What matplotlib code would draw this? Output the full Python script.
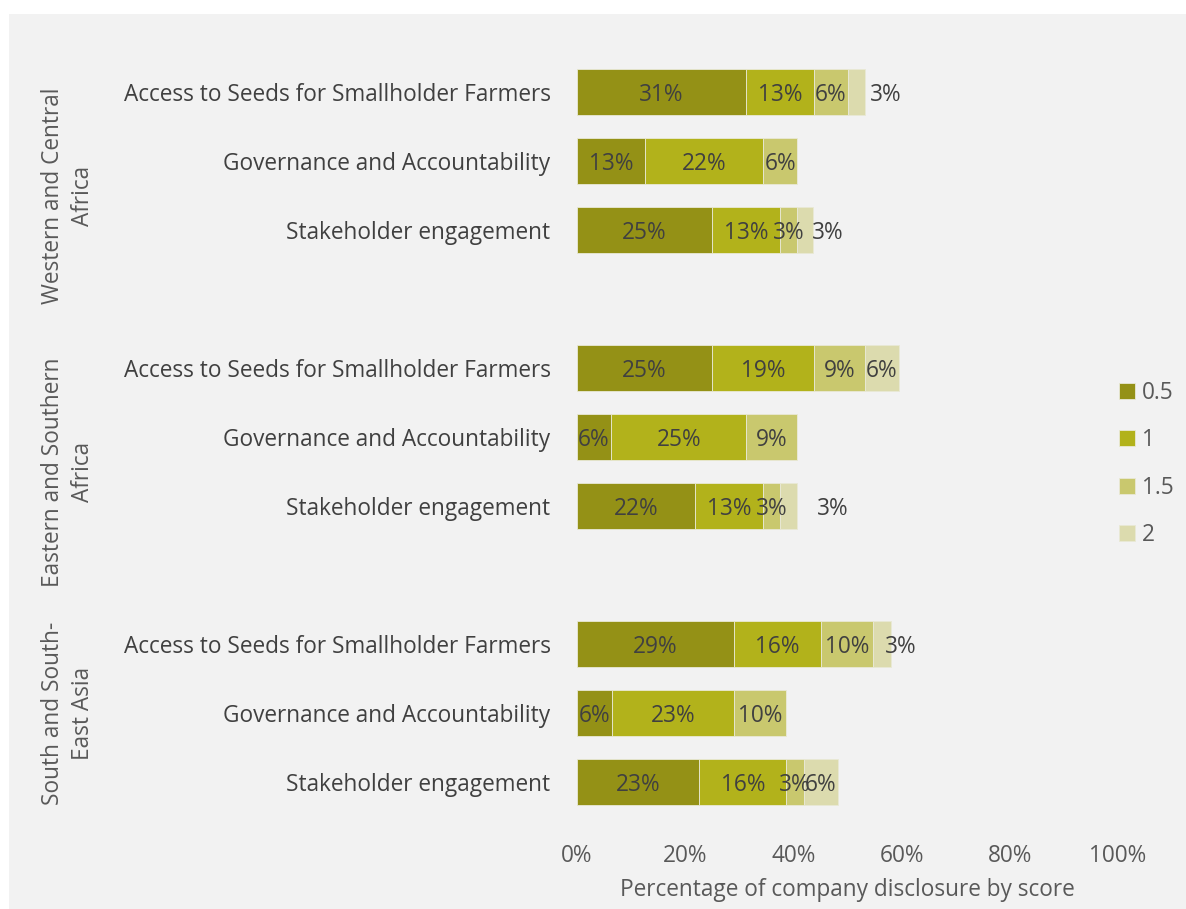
#------------------------------------------------------------------------
# STACKED BAR CHART: DISCLOSURE BY SCORE, PER REGION AND INDICATOR
#------------------------------------------------------------------------
import numpy as np
import matplotlib
matplotlib.use("Agg")
import matplotlib.pyplot as plt
from matplotlib import transforms

#------------------------------------------------------------------------
# DATA (percent of companies, top to bottom)
groups = ["Western and Central\nAfrica", "Eastern and Southern\nAfrica", "South and South-\nEast Asia"]
indicators = ["Access to Seeds for Smallholder Farmers", "Governance and Accountability", "Stakeholder engagement"]
scores = ["0.5", "1", "1.5", "2"]
score_05 = [31.3, 12.5, 25.0, 25.0, 6.3, 21.9, 29.0, 6.4, 22.6]
score_1 = [12.5, 21.9, 12.5, 18.8, 25.0, 12.5, 16.1, 22.6, 16.1]
score_15 = [6.3, 6.3, 3.1, 9.4, 9.4, 3.1, 9.7, 9.7, 3.2]
score_2 = [3.1, 0.0, 3.1, 6.3, 0.0, 3.1, 3.2, 0.0, 6.4]
xticks = [0, 20, 40, 60, 80, 100]
#------------------------------------------------------------------------

colors = ["#949116", "#b2b21b", "#c9c86e", "#dcdbae"]
bg = "#f2f2f2"
txt = "#404040"
grey = "#595959"
font = "Open Sans"
fs = 16.3

# labels that Excel pushed to the right of their segment (row, series): dx in %
nudge = {(0, 3): 5.5, (2, 3): 4.2, (5, 3): 8.3, (6, 3): 3.5}

# row positions: 3 rows per group, one empty slot between groups
ypos = []
for g in range(len(groups)):
    ypos += [g * 4 + i for i in range(len(indicators))]
ypos = np.array(ypos)

fig = plt.figure(figsize=(11.86, 9.09), dpi=100)
fig.patch.set_facecolor("white")
fig.patches.append(plt.Rectangle((9 / 1186, 0), 1, 1 - 14 / 909, transform=fig.transFigure,
                                 facecolor=bg, edgecolor="none", zorder=-10))
ax = fig.add_axes([577 / 1186, 1 - 829 / 909, 541 / 1186, 771 / 909])
ax.set_facecolor(bg)

series = [score_05, score_1, score_15, score_2]
left = np.zeros(len(ypos))
for k, vals in enumerate(series):
    vals = np.array(vals)
    ax.barh(ypos, vals, left=left, height=0.667, color=colors[k], edgecolor="#e9e9d6",
            linewidth=0.6, label=scores[k])
    for r, v in enumerate(vals):
        if v <= 0:
            continue
        x = left[r] + v / 2 + nudge.get((r, k), 0)
        ax.text(x, ypos[r] + 0.04, "{:d}%".format(int(v + 0.5)), ha="center", va="center",
                fontsize=fs, color=txt, family=font)
    left += vals

ax.set_xlim(0, 100)
ax.set_ylim(10.68, -0.5)
ax.set_xticks(xticks)
ax.set_xticklabels(["{}%".format(t) for t in xticks], fontsize=fs, color=grey, family=font)
ax.set_yticks(ypos)
ax.set_yticklabels(indicators * len(groups), fontsize=fs, color=txt, family=font)
ax.tick_params(axis="x", length=0, pad=11)
ax.tick_params(axis="y", length=0, pad=19)
for s in ax.spines.values():
    s.set_visible(False)
ax.set_xlabel("Percentage of company disclosure by score", fontsize=fs, color=grey,
              family=font, labelpad=7)

# group labels, rotated, centred on the group and its trailing gap
trans = transforms.blended_transform_factory(fig.transFigure, ax.transData)
for g, name in enumerate(groups):
    start = g * 4
    end = start + 3 if g < len(groups) - 1 else start + 2
    yc = (start + end) / 2
    ax.text(68 / 1186, yc, name, transform=trans, rotation=90,
            ha="center", va="center", multialignment="center", fontsize=fs,
            color=grey, family=font, linespacing=1.3)

leg = fig.legend(*ax.get_legend_handles_labels(), loc="center left",
                 bbox_to_anchor=(1110 / 1186, 1 - 464 / 909), frameon=False,
                 prop={"family": font, "size": fs}, labelcolor=grey, borderaxespad=0,
                 handlelength=0.7, handleheight=0.7, handletextpad=0.3, labelspacing=1.04)

fig.savefig("out.png", dpi=100, facecolor=fig.get_facecolor())
